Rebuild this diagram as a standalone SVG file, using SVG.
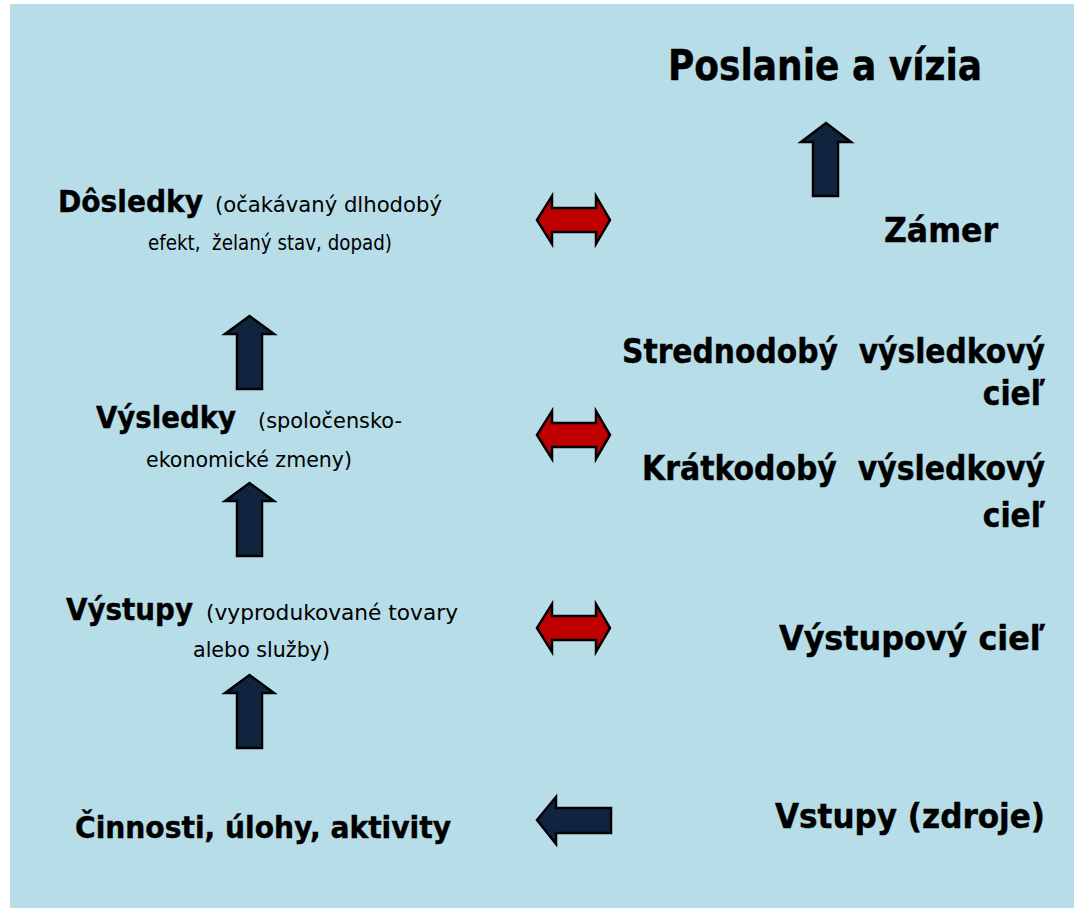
<svg xmlns="http://www.w3.org/2000/svg" width="1074" height="908" viewBox="0 0 1074 908">
<style>
.b{font-family:"DejaVu Sans Condensed","DejaVu Sans",sans-serif;font-stretch:condensed;font-weight:bold;fill:#000;stroke:#000;stroke-width:0.4}
.r{font-family:"DejaVu Sans",sans-serif;fill:#000}
.up{fill:#10243f;stroke:#000;stroke-width:2.5}
.dbl{fill:#c00000;stroke:#000;stroke-width:2.5}
</style>
<rect x="10" y="4" width="1064" height="904" fill="#b7dde8"/>
<g id="connectors">
<path class="up" d="M826,123 L851,142 L838,142 L838,196 L813,196 L813,142 L801,142 Z"/>
<path class="up" d="M249.5,316 L274,334 L262,334 L262,389 L237,389 L237,334 L225,334 Z"/>
<path class="up" d="M249.5,483 L274,501 L262,501 L262,556 L237,556 L237,501 L225,501 Z"/>
<path class="up" d="M249.5,675 L274,693 L262,693 L262,748 L237,748 L237,693 L225,693 Z"/>
<path class="dbl" d="M537,220 L552,196 L552,208 L596,208 L596,196 L610,220 L596,244 L596,232 L552,232 L552,244 Z"/>
<path class="dbl" d="M537,435 L552,411 L552,423 L596,423 L596,411 L610,435 L596,459 L596,447 L552,447 L552,459 Z"/>
<path class="dbl" d="M537,628 L552,604 L552,616 L596,616 L596,604 L610,628 L596,652 L596,640 L552,640 L552,652 Z"/>
<path class="up" d="M537,820 L556,797 L556,808 L611,808 L611,833 L556,833 L556,844 Z"/>
</g>
<g id="poslanie"><text class="b" x="668" y="80" font-size="42" textLength="314" lengthAdjust="spacingAndGlyphs">Poslanie a vízia</text></g>
<g id="zamer"><text class="b" x="884" y="242" font-size="33" textLength="114" lengthAdjust="spacingAndGlyphs">Zámer</text></g>
<g id="dosledky">
<text class="b" x="58" y="212" font-size="30" textLength="145" lengthAdjust="spacingAndGlyphs">Dôsledky</text>
<text class="r" x="215" y="212" font-size="21" textLength="227" lengthAdjust="spacingAndGlyphs">(očakávaný dlhodobý</text>
<text class="r" x="148" y="250" font-size="21" textLength="244" lengthAdjust="spacingAndGlyphs" xml:space="preserve">efekt,  želaný stav, dopad)</text>
</g>
<g id="vysledky">
<text class="b" x="96" y="428" font-size="30" textLength="140" lengthAdjust="spacingAndGlyphs">Výsledky</text>
<text class="r" x="258" y="428" font-size="21" textLength="144" lengthAdjust="spacingAndGlyphs">(spoločensko-</text>
<text class="r" x="146" y="467" font-size="21" textLength="206" lengthAdjust="spacingAndGlyphs">ekonomické zmeny)</text>
</g>
<g id="vystupy">
<text class="b" x="66" y="620" font-size="30" textLength="127" lengthAdjust="spacingAndGlyphs">Výstupy</text>
<text class="r" x="206" y="620" font-size="21" textLength="252" lengthAdjust="spacingAndGlyphs">(vyprodukované tovary</text>
<text class="r" x="193" y="657" font-size="21" textLength="137" lengthAdjust="spacingAndGlyphs">alebo služby)</text>
</g>
<g id="cinnosti"><text class="b" x="75" y="838" font-size="30" textLength="376" lengthAdjust="spacingAndGlyphs">Činnosti, úlohy, aktivity</text></g>
<g id="strednodoby">
<text class="b" x="622" y="363" font-size="33" textLength="423" lengthAdjust="spacingAndGlyphs" xml:space="preserve">Strednodobý  výsledkový</text>
<text class="b" x="1045" y="405" font-size="33" text-anchor="end">cieľ</text>
</g>
<g id="kratkodoby">
<text class="b" x="642" y="480" font-size="33" textLength="403" lengthAdjust="spacingAndGlyphs" xml:space="preserve">Krátkodobý  výsledkový</text>
<text class="b" x="1045" y="527" font-size="33" text-anchor="end">cieľ</text>
</g>
<g id="vystupovy"><text class="b" x="779" y="650" font-size="33" textLength="266" lengthAdjust="spacingAndGlyphs">Výstupový cieľ</text></g>
<g id="vstupy"><text class="b" x="775" y="828" font-size="33" textLength="270" lengthAdjust="spacingAndGlyphs">Vstupy (zdroje)</text></g>
</svg>
